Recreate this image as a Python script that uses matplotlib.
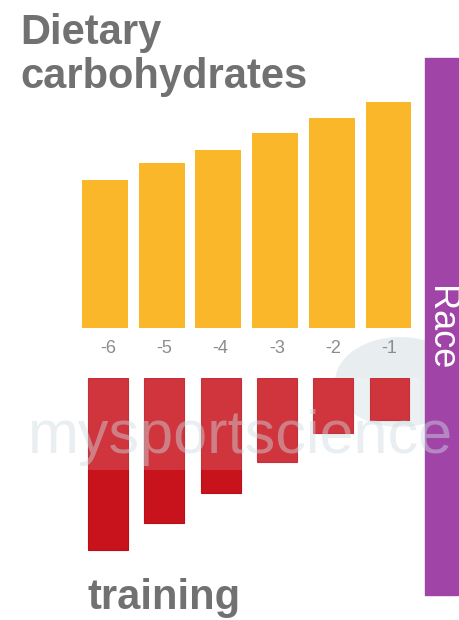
import matplotlib
matplotlib.use("Agg")
import matplotlib.pyplot as plt
from matplotlib.patches import Rectangle, Ellipse

# ---- data ----
days = ["-6", "-5", "-4", "-3", "-2", "-1"]
carbs = [148, 165, 178, 195, 210, 226]      # relative dietary carbohydrate intake
training = [172, 145, 115, 84, 55, 42]      # relative training load
title_lines = ["Dietary", "carbohydrates"]
bottom_label = "training"
race_label = "Race"
watermark = "mysportscience"

W, H = 460, 620
fig = plt.figure(figsize=(W / 100, H / 100), dpi=100)
fig.patch.set_facecolor("white")

def fx(px):
    return px / W

def fy(py):
    return (H - py) / H

FONT = "Liberation Sans"
ORANGE = "#FBB72A"
RED = "#C8121C"
PURPLE = "#A144A8"
GREY = "#717171"

# watermark logo blob (behind everything)
fig.patches.append(Ellipse((fx(400), fy(382)), fx(130), 90 / H,
                           transform=fig.transFigure, color="#d3dee3",
                           alpha=0.5, zorder=-2, linewidth=0))

# top axes: carbohydrates
L, R = 60, 420
top_ax = fig.add_axes([fx(L), fy(328), fx(R - L), (328 - 90) / H])
xt = list(range(len(days)))
top_ax.bar(xt, carbs, width=0.81, color=ORANGE, zorder=2)
top_ax.set_xlim((L - 105) / 56.7, (R - 105) / 56.7)
top_ax.set_ylim(0, 238)
top_ax.axis("off")

# bottom axes: training (downwards)
bot_ax = fig.add_axes([fx(L), fy(560), fx(R - L), (560 - 378) / H])
bot_ax.bar(xt, training, width=0.71, color=RED, edgecolor="#B80F18",
           linewidth=0.8, zorder=2)
bot_ax.set_xlim((L - 108) / 56.3, (R - 108) / 56.3)
bot_ax.set_ylim(182, 0)
for s in bot_ax.spines.values():
    s.set_visible(False)
bot_ax.set_yticks([])
bot_ax.xaxis.tick_top()
bot_ax.set_xticks(xt)
bot_ax.set_xticklabels(days, fontsize=13, color="#8c8c8c", family=FONT)
bot_ax.tick_params(axis="x", length=0, pad=15)
bot_ax.patch.set_alpha(0)
# faint watermark band lightening the upper part of the red bars
bot_ax.axhspan(0, 92, color="white", alpha=0.15, zorder=3, linewidth=0)

# purple race bar
fig.patches.append(Rectangle((fx(425), fy(595)), fx(35), (595 - 58) / H,
                             transform=fig.transFigure, color=PURPLE,
                             zorder=1))

# watermark text
fig.text(fx(28), fy(453), watermark, fontsize=44, family=FONT,
         color="#cddae0", alpha=0.45, va="baseline", ha="left", zorder=6)

# titles
fig.text(fx(20), fy(44), title_lines[0], fontsize=30, fontweight="bold",
         family=FONT, color=GREY, va="baseline", ha="left")
fig.text(fx(20), fy(88), title_lines[1], fontsize=30, fontweight="bold",
         family=FONT, color=GREY, va="baseline", ha="left")
fig.text(fx(88), fy(609), bottom_label, fontsize=30, fontweight="bold",
         family=FONT, color=GREY, va="baseline", ha="left")

# race label
fig.text(fx(441), fy(328), race_label, fontsize=26, family=FONT,
         color="white", rotation=270, ha="center", va="center", zorder=7)

fig.savefig("out.png", dpi=100, facecolor="white")
